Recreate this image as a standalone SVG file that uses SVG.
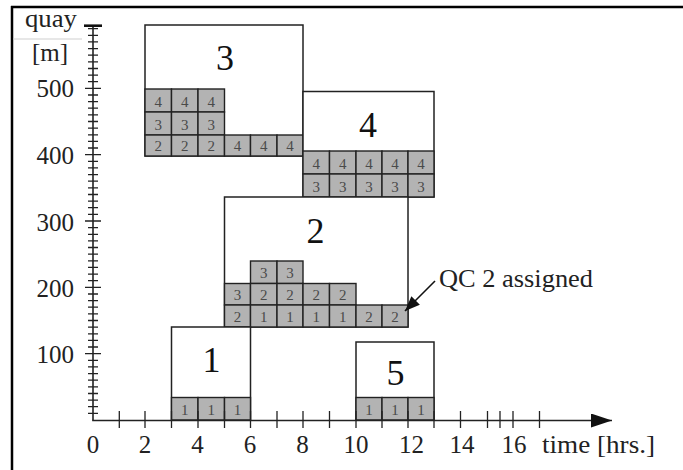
<svg xmlns="http://www.w3.org/2000/svg" width="683" height="470" viewBox="0 0 683 470">
<style>
.frame{stroke:#000;stroke-width:2.5;fill:none}
.box{fill:#fff;stroke:#222;stroke-width:1.5}
.cell{fill:#b3b3b3;stroke:#222;stroke-width:1.4}
.ct{font-family:"Liberation Serif","Times New Roman",serif;font-size:15px;fill:#4a4a4a;text-anchor:middle}
.big{font-family:"Liberation Serif","Times New Roman",serif;font-size:36px;fill:#111;text-anchor:middle}
.lab{font-family:"Liberation Serif","Times New Roman",serif;font-size:25px;fill:#222}
.ax{stroke:#222;stroke-width:1.6;fill:none}
.tk{stroke:#222;stroke-width:1.3;fill:none}
</style>
<defs>
<marker id="axhead" markerUnits="userSpaceOnUse" markerWidth="22" markerHeight="14" refX="21" refY="7" orient="auto">
<path d="M0,0 L21,7 L0,14 z" fill="#111"/>
</marker>
<marker id="qchead" markerUnits="userSpaceOnUse" markerWidth="16" markerHeight="12" refX="15" refY="6" orient="auto">
<path d="M0,0 L15,6 L0,12 z" fill="#111"/>
</marker>
</defs>
<rect width="683" height="470" fill="#fff"/>
<line class="frame" x1="11" y1="7" x2="683" y2="7"/>
<line class="frame" x1="12" y1="6" x2="12" y2="470"/>
<line x1="13" y1="39" x2="82" y2="39" stroke="#d0d0d0" stroke-width="1.2"/>

<g id="block3">
<rect class="box" x="145" y="25" width="158" height="131"/>
<rect class="cell" x="145" y="89" width="26.5" height="23"/><rect class="cell" x="171.5" y="89" width="26.5" height="23"/><rect class="cell" x="198" y="89" width="26.5" height="23"/>
<rect class="cell" x="145" y="112" width="26.5" height="23"/><rect class="cell" x="171.5" y="112" width="26.5" height="23"/><rect class="cell" x="198" y="112" width="26.5" height="23"/>
<rect class="cell" x="145" y="135" width="26.5" height="21"/><rect class="cell" x="171.5" y="135" width="26.5" height="21"/><rect class="cell" x="198" y="135" width="26.5" height="21"/><rect class="cell" x="224.5" y="135" width="26" height="21"/><rect class="cell" x="250.5" y="135" width="26.5" height="21"/><rect class="cell" x="277" y="135" width="26" height="21"/>
<text class="ct" x="158.3" y="106.5">4</text><text class="ct" x="184.8" y="106.5">4</text><text class="ct" x="211.3" y="106.5">4</text>
<text class="ct" x="158.3" y="129.5">3</text><text class="ct" x="184.8" y="129.5">3</text><text class="ct" x="211.3" y="129.5">3</text>
<text class="ct" x="158.3" y="151">2</text><text class="ct" x="184.8" y="151">2</text><text class="ct" x="211.3" y="151">2</text><text class="ct" x="237.5" y="151">4</text><text class="ct" x="263.8" y="151">4</text><text class="ct" x="290" y="151">4</text>
<text class="big" x="225" y="70">3</text>
</g>

<g id="block4">
<rect class="box" x="303" y="91.5" width="131" height="105.5"/>
<rect class="cell" x="303" y="151" width="26.5" height="23"/><rect class="cell" x="329.5" y="151" width="26.5" height="23"/><rect class="cell" x="356" y="151" width="26" height="23"/><rect class="cell" x="382" y="151" width="26" height="23"/><rect class="cell" x="408" y="151" width="26" height="23"/>
<rect class="cell" x="303" y="174" width="26.5" height="23"/><rect class="cell" x="329.5" y="174" width="26.5" height="23"/><rect class="cell" x="356" y="174" width="26" height="23"/><rect class="cell" x="382" y="174" width="26" height="23"/><rect class="cell" x="408" y="174" width="26" height="23"/>
<text class="ct" x="316.3" y="168.5">4</text><text class="ct" x="342.8" y="168.5">4</text><text class="ct" x="369" y="168.5">4</text><text class="ct" x="395" y="168.5">4</text><text class="ct" x="421" y="168.5">4</text>
<text class="ct" x="316.3" y="191.5">3</text><text class="ct" x="342.8" y="191.5">3</text><text class="ct" x="369" y="191.5">3</text><text class="ct" x="395" y="191.5">3</text><text class="ct" x="421" y="191.5">3</text>
<text class="big" x="368" y="137">4</text>
</g>

<g id="block2">
<rect class="box" x="224.5" y="197" width="183.5" height="130"/>
<rect class="cell" x="250.5" y="261" width="26.5" height="22.5"/><rect class="cell" x="277" y="261" width="26" height="22.5"/>
<rect class="cell" x="224.5" y="283.5" width="26" height="21.5"/><rect class="cell" x="250.5" y="283.5" width="26.5" height="21.5"/><rect class="cell" x="277" y="283.5" width="26" height="21.5"/><rect class="cell" x="303" y="283.5" width="26.5" height="21.5"/><rect class="cell" x="329.5" y="283.5" width="26.5" height="21.5"/>
<rect class="cell" x="224.5" y="305" width="26" height="22"/><rect class="cell" x="250.5" y="305" width="26.5" height="22"/><rect class="cell" x="277" y="305" width="26" height="22"/><rect class="cell" x="303" y="305" width="26.5" height="22"/><rect class="cell" x="329.5" y="305" width="26.5" height="22"/><rect class="cell" x="356" y="305" width="26" height="22"/><rect class="cell" x="382" y="305" width="26" height="22"/>
<text class="ct" x="263.8" y="278">3</text><text class="ct" x="290" y="278">3</text>
<text class="ct" x="237.5" y="300">3</text><text class="ct" x="263.8" y="300">2</text><text class="ct" x="290" y="300">2</text><text class="ct" x="316.3" y="300">2</text><text class="ct" x="342.8" y="300">2</text>
<text class="ct" x="237.5" y="322">2</text><text class="ct" x="263.8" y="322">1</text><text class="ct" x="290" y="322">1</text><text class="ct" x="316.3" y="322">1</text><text class="ct" x="342.8" y="322">1</text><text class="ct" x="369" y="322">2</text><text class="ct" x="395" y="322">2</text>
<text class="big" x="315.5" y="243">2</text>
</g>

<g id="block1">
<rect class="box" x="171.5" y="327" width="79" height="93"/>
<rect class="cell" x="171.5" y="397.5" width="26.5" height="22.5"/><rect class="cell" x="198" y="397.5" width="26.5" height="22.5"/><rect class="cell" x="224.5" y="397.5" width="26" height="22.5"/>
<text class="ct" x="184.8" y="415">1</text><text class="ct" x="211.3" y="415">1</text><text class="ct" x="237.5" y="415">1</text>
<text class="big" x="211.5" y="372">1</text>
</g>

<g id="block5">
<rect class="box" x="356" y="342" width="78" height="78"/>
<rect class="cell" x="356" y="397.5" width="26" height="22.5"/><rect class="cell" x="382" y="397.5" width="26" height="22.5"/><rect class="cell" x="408" y="397.5" width="26" height="22.5"/>
<text class="ct" x="369" y="415">1</text><text class="ct" x="395" y="415">1</text><text class="ct" x="421" y="415">1</text>
<text class="big" x="395.5" y="385">5</text>
</g>

<g id="axes">
<line class="ax" x1="93" y1="25.5" x2="93" y2="420.5"/>
<line x1="84" y1="25.7" x2="102" y2="25.7" stroke="#111" stroke-width="2.6"/>
<line class="ax" x1="92.2" y1="420.5" x2="612" y2="420.5" marker-end="url(#axhead)"/>
<path class="tk" d="M88 413.4h10M88 406.7h10M88 400.1h10M88 393.5h10M88 386.8h10M88 380.2h10M88 373.6h10M88 366.9h10M88 360.3h10
M88 347h10M88 340.4h10M88 333.8h10M88 327.1h10M88 320.5h10M88 313.9h10M88 307.2h10M88 300.6h10M88 294h10
M88 280.7h10M88 274.1h10M88 267.4h10M88 260.8h10M88 254.2h10M88 247.5h10M88 240.9h10M88 234.3h10M88 227.6h10
M88 214.4h10M88 207.7h10M88 201.1h10M88 194.5h10M88 187.8h10M88 181.2h10M88 174.6h10M88 167.9h10M88 161.3h10
M88 148h10M88 141.4h10M88 134.8h10M88 128.1h10M88 121.5h10M88 114.9h10M88 108.2h10M88 101.6h10M88 95h10
M88 81.7h10M88 75.1h10M88 68.5h10M88 61.8h10M88 55.2h10M88 48.6h10M88 41.9h10M88 35.3h10M88 28.7h10"/>
<path class="tk" d="M85 353.7h16M85 287.3h16M85 221h16M85 154.7h16M85 88.4h16"/>
<path class="tk" d="M119.3 411v17M145 411v17M171.5 411v17M198 411v17M224.5 411v17M250.5 411v17M277 411v17M303 411v17M329.5 411v17M356 411v17M382 411v17M408 411v17M434 411v17M460.5 411v17M487.5 411v17M500 411v17M513 411v17M539.5 411v17"/>
<text class="lab" x="74" y="97.4" text-anchor="end">500</text>
<text class="lab" x="74" y="163.7" text-anchor="end">400</text>
<text class="lab" x="74" y="230.5" text-anchor="end">300</text>
<text class="lab" x="74" y="296.5" text-anchor="end">200</text>
<text class="lab" x="74" y="362.7" text-anchor="end">100</text>
<text class="lab" x="25" y="27" textLength="52" lengthAdjust="spacingAndGlyphs">quay</text>
<text class="lab" x="32" y="61">[m]</text>
<g text-anchor="middle">
<text class="lab" x="93" y="453">0</text>
<text class="lab" x="145" y="453">2</text>
<text class="lab" x="197.5" y="453">4</text>
<text class="lab" x="250" y="453">6</text>
<text class="lab" x="302.5" y="453">8</text>
<text class="lab" x="356" y="453">10</text>
<text class="lab" x="411.5" y="453">12</text>
<text class="lab" x="462" y="453">14</text>
<text class="lab" x="514" y="453">16</text>
</g>
<text class="lab" x="542" y="453" textLength="113" lengthAdjust="spacingAndGlyphs">time [hrs.]</text>
</g>

<g id="connectors">
<line x1="435" y1="281" x2="405" y2="311" stroke="#111" stroke-width="1.6" marker-end="url(#qchead)"/>
</g>
<g id="qc-label">
<text class="lab" x="439" y="287" textLength="154" lengthAdjust="spacingAndGlyphs">QC 2 assigned</text>
</g>
</svg>
